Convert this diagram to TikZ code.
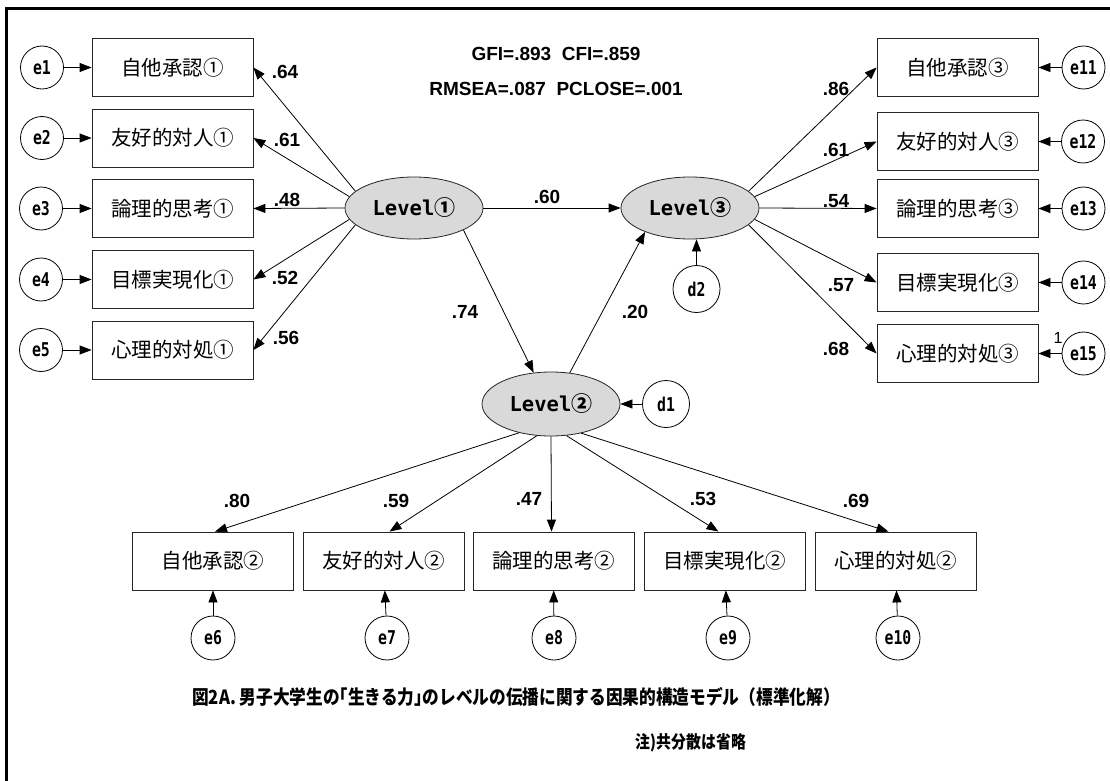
\documentclass[tikz,border=0pt]{standalone}
\usepackage{fontspec}
\usepackage{graphicx}
\usetikzlibrary{arrows.meta,shapes.geometric}
\setmainfont{Liberation Sans}
\newfontfamily\jpfont{Noto Sans CJK JP}
\newfontfamily\monob{DejaVu Sans Mono}
\newcommand\elab[1]{\scalebox{0.78}[1]{\monob\bfseries\fontsize{19}{19}\selectfont #1}}
\newcommand\levlab[1]{{\monob\bfseries\fontsize{20.5}{21}\selectfont Level}{\jpfont\bfseries\fontsize{21}{21}\selectfont #1}}
\definecolor{latgray}{RGB}{217,217,217}
\tikzset{
  obsbox/.style={draw=black!85, line width=0.8pt, minimum width=161pt, minimum height=58pt, inner sep=0pt, font=\jpfont\fontsize{20.5}{21}\selectfont},
  errc/.style={circle, draw=black, line width=0.8pt, minimum size=43pt, inner sep=0pt},
  distc/.style={circle, draw=black, line width=0.8pt, minimum size=47pt, inner sep=0pt},
  lat/.style={ellipse, draw=black!85, line width=0.8pt, fill=latgray, minimum width=138pt, minimum height=62pt, inner sep=0pt},
  coef/.style={font=\bfseries\fontsize{19}{19}\selectfont, inner sep=0pt},
  arr/.style={-{Triangle[length=12pt,width=9pt]}, line width=0.8pt, draw=black}
}
\begin{document}
\begin{tikzpicture}[x=1pt,y=-1pt]
\useasboundingbox (0,0) rectangle (1110,781);
% frame
\draw[line width=3pt] (6.5,781) -- (6.5,9) -- (1110,9);
% fit indices
\node[coef] (fit1) at (556,54) {GFI=.893\ \ CFI=.859};
\node[coef] (fit2) at (556,89) {RMSEA=.087\ \ PCLOSE=.001};
% latent
\node[lat] (L1) at (414,208) {\levlab{①}};
\node[lat] (L3) at (690,208) {\levlab{③}};
\node[lat, minimum height=64pt] (L2) at (551,404) {\levlab{②}};
\node[distc] (d1) at (666,404) {\elab{d1}};
\node[distc] (d2) at (696.5,289) {\elab{d2}};
% left boxes
\node[obsbox] (a1) at (172.5,67.5) {自他承認①};
\node[obsbox] (a2) at (172.5,138) {友好的対人①};
\node[obsbox] (a3) at (172.5,208.5) {論理的思考①};
\node[obsbox] (a4) at (172.5,279.5) {目標実現化①};
\node[obsbox] (a5) at (172.5,350) {心理的対処①};
\node[errc] (e1) at (42,67.5) {\elab{e1}};
\node[errc] (e2) at (42,138) {\elab{e2}};
\node[errc] (e3) at (41,208.5) {\elab{e3}};
\node[errc] (e4) at (41,279.5) {\elab{e4}};
\node[errc] (e5) at (41,350) {\elab{e5}};
% right boxes
\node[obsbox] (c1) at (957.5,67.5) {自他承認③};
\node[obsbox] (c2) at (957.5,141.5) {友好的対人③};
\node[obsbox] (c3) at (957.5,208.5) {論理的思考③};
\node[obsbox] (c4) at (957.5,282.5) {目標実現化③};
\node[obsbox] (c5) at (957.5,353.5) {心理的対処③};
\node[errc] (e11) at (1083.5,67.5) {\elab{e11}};
\node[errc] (e12) at (1083,141.5) {\elab{e12}};
\node[errc] (e13) at (1083.5,208.5) {\elab{e13}};
\node[errc] (e14) at (1083.5,282.5) {\elab{e14}};
\node[errc] (e15) at (1083.5,353.5) {\elab{e15}};
\node[inner sep=0pt, font=\fontsize{16}{16}\selectfont] (one) at (1058,338) {1};
% bottom boxes
\node[obsbox] (b1) at (213,561) {自他承認②};
\node[obsbox] (b2) at (383.5,561) {友好的対人②};
\node[obsbox] (b3) at (553.5,561) {論理的思考②};
\node[obsbox] (b4) at (724.5,561) {目標実現化②};
\node[obsbox] (b5) at (895.5,561) {心理的対処②};
\node[errc, minimum size=44pt] (e6) at (213,638) {\elab{e6}};
\node[errc, minimum size=44pt] (e7) at (387,638) {\elab{e7}};
\node[errc, minimum size=44pt] (e8) at (554,638) {\elab{e8}};
\node[errc, minimum size=44pt] (e9) at (728,638) {\elab{e9}};
\node[errc, minimum size=44pt] (e10) at (898,638) {\elab{e10}};
% error arrows
\foreach \e/\b in {e1/a1,e2/a2,e3/a3,e4/a4,e5/a5,e11/c1,e12/c2,e13/c3,e14/c4,e15/c5,e6/b1,e7/b2,e8/b3,e9/b4,e10/b5}
  \draw[arr] (\e) -- (\b);
\draw[arr] (d1) -- (L2);
\draw[arr] (d2.north) -- (d2.north |- L3.south);
% structural paths
\draw[arr] (L1) -- (L3);
\draw[arr] (L1.-24) -- (L2.119);
\draw[arr] (L2.59) -- (L3.208);
% loadings level 1
\draw[arr] (L1.164) -- (a1.east);
\draw[arr] (L1.170) -- (a2.east);
\draw[arr] (L1.180) -- (a3.east);
\draw[arr] (L1.190) -- (a4.east);
\draw[arr] (L1.196) -- (a5.east);
% loadings level 3
\draw[arr] (L3.16) -- (c1.west);
\draw[arr] (L3.10) -- (c2.west);
\draw[arr] (L3.0) -- (c3.west);
\draw[arr] (L3.-10) -- (c4.west);
\draw[arr] (L3.-16) -- (c5.west);
% loadings level 2
\draw[arr] (L2.222) -- ([xshift=2pt]b1.north);
\draw[arr] (L2.246) -- ([xshift=6pt]b2.north);
\draw[arr] (L2.270) -- ([xshift=-2pt]b3.north);
\draw[arr] (L2.296) -- ([xshift=-6pt]b4.north);
\draw[arr] (L2.316) -- ([xshift=-7pt]b5.north);
% coefficients
\node[coef] (k1) at (285,72) {.64};
\node[coef] (k2) at (287,140) {.61};
\node[coef] (k3) at (287,200) {.48};
\node[coef] (k4) at (285,278) {.52};
\node[coef] (k5) at (286,338) {.56};
\node[coef] (k6) at (836,89) {.86};
\node[coef] (k7) at (836,150) {.61};
\node[coef] (k8) at (836,201) {.54};
\node[coef] (k9) at (841,285) {.57};
\node[coef] (k10) at (836,349) {.68};
\node[coef] (k11) at (547,197) {.60};
\node[coef] (k12) at (465,312) {.74};
\node[coef] (k13) at (635,312) {.20};
\node[coef] (k14) at (237,501) {.80};
\node[coef] (k15) at (396,501) {.59};
\node[coef] (k16) at (529,499) {.47};
\node[coef] (k17) at (703,499) {.53};
\node[coef] (k18) at (856,501) {.69};
% caption
\node[inner sep=0pt] (cap) at (516,697) {\scalebox{0.855}[1]{\jpfont\bfseries\fontsize{19.5}{20}\selectfont 図2A. 男子大学生の｢生きる力｣のレベルの伝播に関する因果的構造モデル（標準化解）}};
\node[inner sep=0pt] (note) at (691,743) {\scalebox{0.85}[1]{\jpfont\bfseries\fontsize{17.5}{18}\selectfont 注)共分散は省略}};
\end{tikzpicture}
\end{document}
